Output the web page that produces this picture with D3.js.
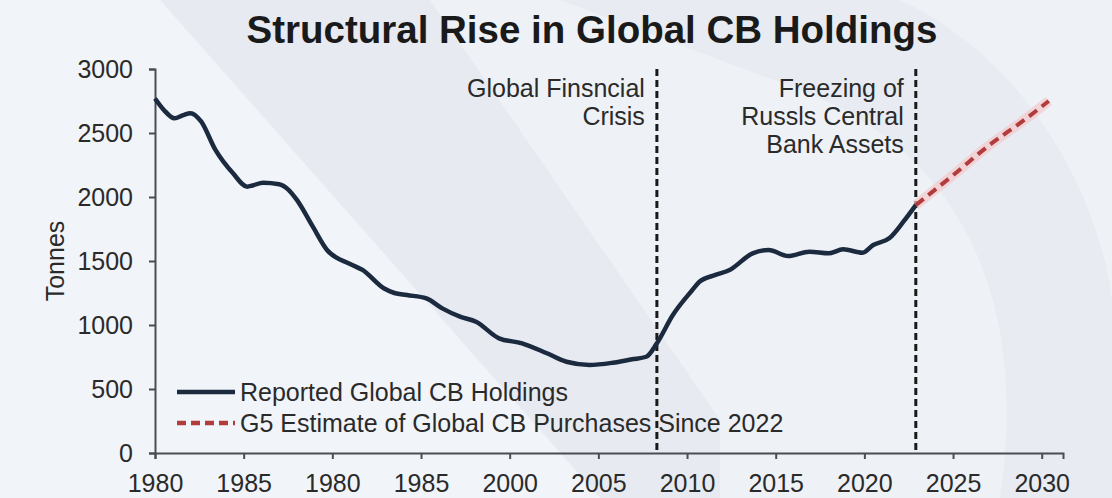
<!DOCTYPE html>
<html>
<head>
<meta charset="utf-8">
<script src="https://cdn.jsdelivr.net/npm/d3@7"></script>
<style>
  html, body { margin: 0; padding: 0; background: #eef1f6; }
  svg { display: block; font-family: "Liberation Sans", Arial, sans-serif; }
</style>
</head>
<body>
<svg id="chart"></svg>
<script>
// размеры
const width = 1112;
const height = 498;

// данные (чтение с картинки)
const reportedYears = [1980.0, 1980.5, 1981.1, 1981.6, 1982.0, 1982.6, 1983.4, 1984.4, 1985.2, 1985.5,
  1986.1, 1987.0, 1987.5, 1988.0, 1988.9, 1989.7, 1991.0, 1991.7, 1992.9, 1993.5,
  1994.2, 1995.3, 1996.2, 1997.2, 1998.1, 1999.4, 2000.7, 2002.1, 2003.2, 2004.5,
  2005.8, 2006.9, 2007.7, 2008.3, 2009.2, 2010.3, 2010.7, 2011.6, 2012.4, 2013.7,
  2014.6, 2015.7, 2016.9, 2018.0, 2018.8, 2019.9, 2020.5, 2021.4, 2022.2, 2022.9];
const reportedTonnes = [2770, 2680, 2615, 2640, 2655, 2590, 2370, 2185, 2081, 2090,
  2112, 2100, 2060, 1977, 1768, 1586, 1477, 1430, 1287, 1250,
  1234, 1208, 1130, 1065, 1026, 896, 857, 779, 713, 688,
  705, 732, 752, 857, 1078, 1273, 1338, 1391, 1430, 1560,
  1586, 1539, 1573, 1560, 1591, 1565, 1625, 1677, 1807, 1937];

const estimateYears = [2022.9, 2025, 2027, 2029, 2030.4];
const estimateTonnes = [1937, 2170, 2400, 2600, 2750];

const xTicks = [1980, 1985, 1990, 1995, 2000, 2005, 2010, 2015, 2020, 2025, 2030];
const xTickLabels = ["1980", "1985", "1980", "1985", "2000", "2005", "2010", "2015", "2020", "2025", "2030"];
const yTicks = [0, 500, 1000, 1500, 2000, 2500, 3000];

const events = [
  { year: 2008.3, lines: ["Global Finsncial", "Crisis"] },
  { year: 2022.9, lines: ["Freezing of", "Russls Central", "Bank Assets"] }
];

const legendItems = [
  { label: "Reported Global CB Holdings", color: "#1b2a3e", dash: null },
  { label: "G5 Estimate of Global CB Purchases Since 2022", color: "#b23b3b", dash: "9,5" }
];

const svg = d3.select("#chart")
  .attr("width", width)
  .attr("height", height);

// фон с водяным знаком
const bg = svg.append("g");
bg.append("rect").attr("width", width).attr("height", height).attr("fill", "#eef1f6");
bg.append("path")
  .attr("d", "M160,0 L430,0 L720,420 L720,498 L600,498 Z")
  .attr("fill", "#e7eaf1");
bg.append("path")
  .attr("d", "M0,0 L160,0 L600,498 L0,498 Z")
  .attr("fill", "#f1f4f9");
bg.append("path")
  .attr("d", "M560,0 L900,0 C1030,60 1100,200 1112,300 L1112,498 L1000,498 C1030,300 960,150 800,90 Z")
  .attr("fill", "#e8ebf1");

// шкалы
const x = d3.scaleLinear().domain([1980, 2031.2]).range([155, 1063]);
const y = d3.scaleLinear().domain([0, 3000]).range([453, 69]);

// оси
const xAxis = svg.append("g")
  .attr("transform", `translate(0,${y(0)})`)
  .call(d3.axisBottom(x)
    .tickValues(xTicks)
    .tickFormat((d, i) => xTickLabels[i])
    .tickSize(6));

const yAxis = svg.append("g")
  .attr("transform", `translate(${x(1980)},0)`)
  .call(d3.axisLeft(y)
    .tickValues(yTicks)
    .tickFormat(d3.format("d"))
    .tickSize(6)
    .tickPadding(16));

[xAxis, yAxis].forEach(a => {
  a.select(".domain").attr("stroke", "#4a4d52").attr("stroke-width", 2);
  a.selectAll(".tick line").attr("stroke", "#4a4d52").attr("stroke-width", 2);
  a.selectAll(".tick text")
    .attr("fill", "#2a2a2a")
    .style("font-size", "25px")
    .style("font-family", "'Liberation Sans', Arial, sans-serif");
});
xAxis.selectAll(".tick text").attr("y", 39).attr("dy", 0);
yAxis.selectAll(".tick text").attr("dy", "0.35em");

// подпись оси Y
svg.append("text")
  .attr("transform", `translate(64,${y(1500)}) rotate(-90)`)
  .attr("text-anchor", "middle")
  .attr("fill", "#2a2a2a")
  .style("font-size", "25px")
  .text("Tonnes");

// заголовок
svg.append("text")
  .attr("x", 592)
  .attr("y", 43)
  .attr("text-anchor", "middle")
  .attr("fill", "#1a1a1a")
  .style("font-size", "38.5px")
  .style("font-weight", 700)
  .text("Structural Rise in Global CB Holdings");

// вертикальные линии событий
events.forEach(ev => {
  svg.append("line")
    .attr("x1", x(ev.year)).attr("x2", x(ev.year))
    .attr("y1", y(3000)).attr("y2", y(0))
    .attr("stroke", "#1a1a1a")
    .attr("stroke-width", 3)
    .attr("stroke-dasharray", "7,4");
  const t = svg.append("text")
    .attr("x", x(ev.year) - 12)
    .attr("y", 97)
    .attr("text-anchor", "end")
    .attr("fill", "#2a2a2a")
    .style("font-size", "25px");
  ev.lines.forEach((ln, i) => {
    t.append("tspan")
      .attr("x", x(ev.year) - 12)
      .attr("dy", i === 0 ? 0 : 28)
      .text(ln);
  });
});

const line = d3.line()
  .x(d => x(d[0]))
  .y(d => y(d[1]))
  .curve(d3.curveMonotoneX);

const reported = reportedYears.map((yr, i) => [yr, reportedTonnes[i]]);
const estimate = estimateYears.map((yr, i) => [yr, estimateTonnes[i]]);

// основная линия
svg.append("path")
  .datum(reported)
  .attr("fill", "none")
  .attr("stroke", "#1b2a3e")
  .attr("stroke-width", 4.5)
  .attr("stroke-linejoin", "round")
  .attr("d", line);

// прогноз: мягкое свечение + пунктир
svg.append("path")
  .datum(estimate)
  .attr("fill", "none")
  .attr("stroke", "#f3c9cc")
  .attr("stroke-width", 10)
  .attr("opacity", 0.7)
  .attr("d", line);
svg.append("path")
  .datum(estimate)
  .attr("fill", "none")
  .attr("stroke", "#b23b3b")
  .attr("stroke-width", 4)
  .attr("stroke-dasharray", "10,6")
  .attr("d", line);

// легенда
const legend = svg.append("g").attr("transform", "translate(177,392)");
legendItems.forEach((item, i) => {
  const g = legend.append("g").attr("transform", `translate(0,${i * 31})`);
  g.append("line")
    .attr("x1", 0).attr("x2", 58)
    .attr("y1", 0).attr("y2", 0)
    .attr("stroke", item.color)
    .attr("stroke-width", 4.5)
    .attr("stroke-dasharray", item.dash);
  g.append("text")
    .attr("x", 63)
    .attr("y", 0)
    .attr("dy", "0.35em")
    .attr("fill", "#2a2a2a")
    .style("font-size", "25px")
    .text(item.label);
});
</script>
</body>
</html>
